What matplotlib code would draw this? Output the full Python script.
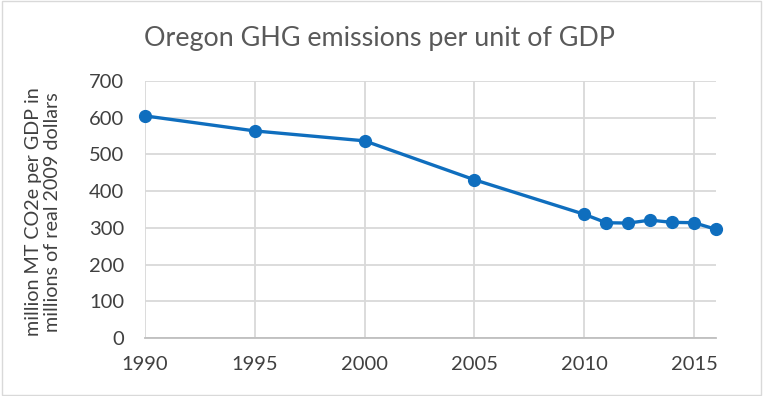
import matplotlib.pyplot as plt
import matplotlib.patches as patches

# data
years = [1990, 1995, 2000, 2005, 2010, 2011, 2012, 2013, 2014, 2015, 2016]
intensity = [605, 564, 537, 431, 337, 314, 313, 321, 315, 314, 296]
x_ticks = [1990, 1995, 2000, 2005, 2010, 2015]
y_ticks = [0, 100, 200, 300, 400, 500, 600, 700]

plt.rcParams['font.family'] = ['Lato', 'DejaVu Sans']

W, H, dpi = 763, 396, 100
fig = plt.figure(figsize=(W / dpi, H / dpi), dpi=dpi)

# 플롯 영역 (픽셀 기준)
left, right, top, bottom = 145, 716, 81, 338
ax = fig.add_axes([left / W, 1 - bottom / H, (right - left) / W, (bottom - top) / H])

ax.plot(years, intensity, color='#0F6EBE', linewidth=2.4, marker='o',
        markersize=8.5, zorder=5, clip_on=False)

ax.set_xlim(1990, 2016)
ax.set_ylim(0, 700)
ax.set_xticks(x_ticks)
ax.set_yticks(y_ticks)
ax.grid(True, color='#D9D9D9', linewidth=1.3)
ax.set_axisbelow(True)
ax.tick_params(length=0, labelsize=14.5, labelcolor='#404040')
ax.tick_params(axis='y', pad=15)
ax.tick_params(axis='x', pad=13)

for s in ['top', 'right', 'left']:
    ax.spines[s].set_visible(False)
ax.spines['bottom'].set_color('#BFBFBF')
ax.spines['bottom'].set_linewidth(1.3)

# y축 레이블
fig.text(43 / W, 1 - 212 / H, 'million MT CO2e per GDP in\nmillions of real 2009 dollars',
         rotation=90, ha='center', va='center', fontsize=14.2, color='#404040',
         linespacing=1.2)

fig.text(380 / W, 1 - 45.7 / H, 'Oregon GHG emissions per unit of GDP',
         ha='center', va='baseline', fontsize=19.4, color='#595959')

# 차트 테두리
fig.patches.append(patches.Rectangle((0.002, 0.003), 0.996, 0.994, transform=fig.transFigure,
                                     fill=False, edgecolor='#D9D9D9', linewidth=1))

fig.savefig('out.png', dpi=dpi)
